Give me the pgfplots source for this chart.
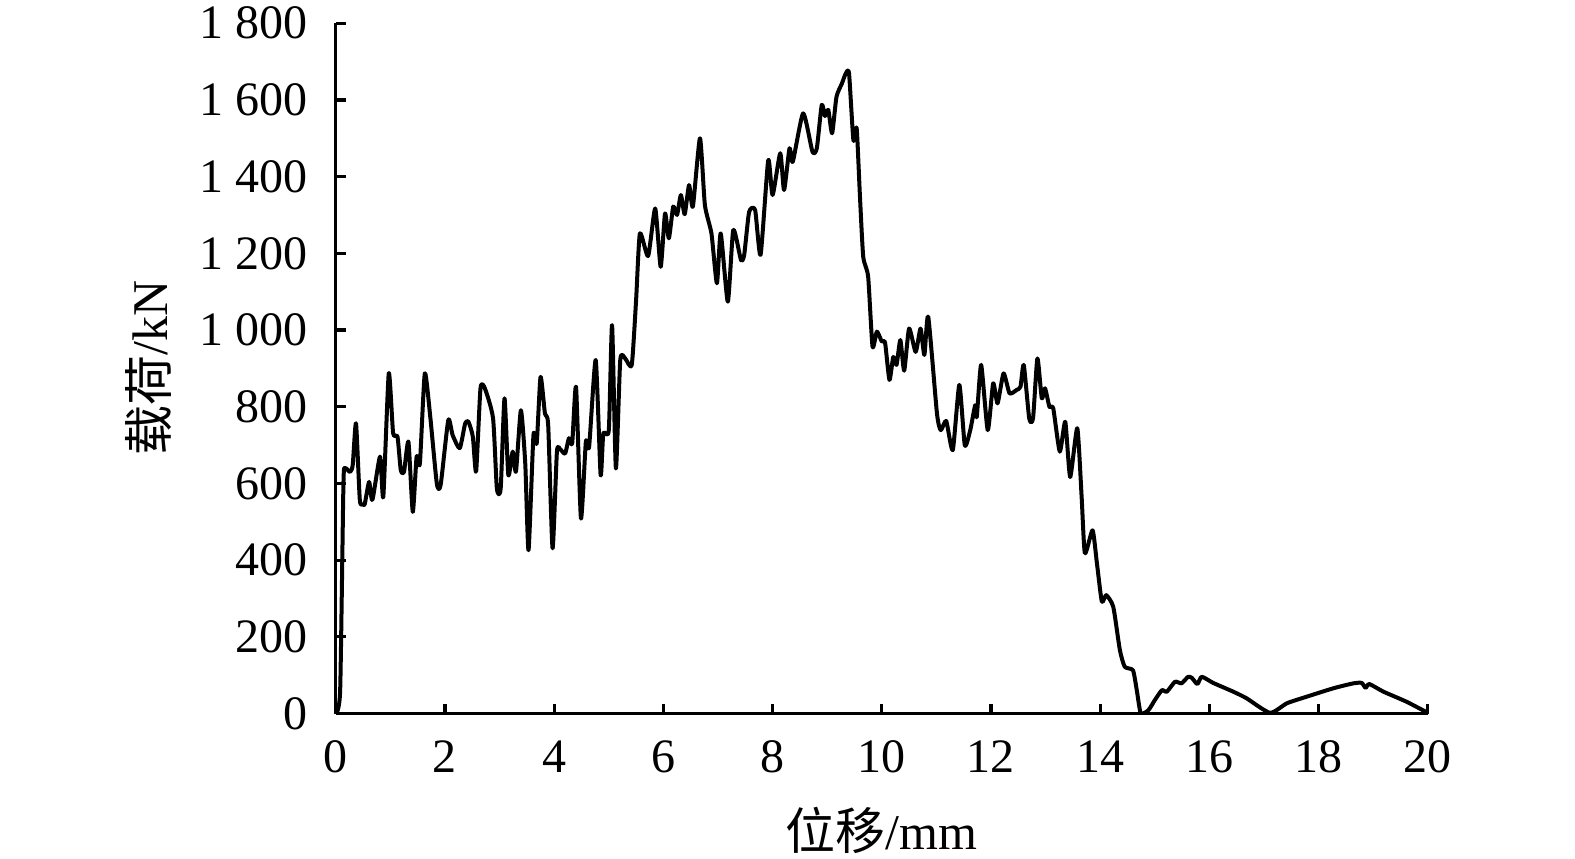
\documentclass[border=0pt]{standalone}
\usepackage{fontspec}
\setmainfont{Liberation Serif}
\newfontfamily\cjk{Noto Sans CJK SC}
\usepackage{pgfplots}
\pgfplotsset{compat=1.18}

\begin{document}
\begin{tikzpicture}
\path[use as bounding box] (-83.95pt,-36.1pt) rectangle (309.8pt,178.4pt);
\begin{axis}[
    at={(0,0)}, anchor=south west,
    scale only axis,
    width=273pt, height=172.6pt,
    xmin=0, xmax=20, ymin=0, ymax=1800,
    axis x line*=bottom, axis y line*=left,
    axis line style={line width=0.8pt, -},
    xtick={0,2,...,20},
    ytick={0,200,...,1800},
    yticklabels={0,200,400,600,800,{1 000},{1 200},{1 400},{1 600},{1 800}},
    major tick length=2.5pt,
    tick align=inside,
    tick style={line width=0.8pt, black},
    /pgf/number format/assume math mode=true,
    tick label style={font=\fontsize{12}{14}\selectfont},
    xticklabel style={anchor=base, yshift=-14.6pt},
    yticklabel style={anchor=east, inner sep=0pt, xshift=-6.9pt},
    xlabel={{\cjk 位移}/mm},
    label style={font=\fontsize{12.5}{15}\selectfont},
    xlabel style={at={(rel axis cs:0.5,0)}, anchor=center, yshift=-29.1pt},
]
\addplot[black, line width=1pt, line join=round, smooth, tension=0.35] coordinates {
(0,0) (0.08,61) (0.14,600) (0.17,640) (0.26,630) (0.31,648) (0.37,757)
(0.44,557) (0.50,546) (0.53,546) (0.61,604) (0.67,557) (0.81,670) (0.87,565)
(0.97,887) (1.05,731) (1.13,722) (1.19,635) (1.25,631) (1.33,709) (1.41,526)
(1.48,670) (1.54,652) (1.63,887) (1.73,774) (1.85,600) (1.92,596) (2.06,765)
(2.14,726) (2.27,692) (2.37,757) (2.43,761) (2.51,722) (2.57,631) (2.65,848)
(2.73,848) (2.88,770) (2.95,587) (3.02,587) (3.09,822) (3.16,622) (3.24,683)
(3.30,631) (3.39,791) (3.47,652) (3.53,426) (3.62,726) (3.68,705) (3.75,878)
(3.83,783) (3.89,752) (3.97,431) (4.05,683) (4.11,689) (4.20,678) (4.27,718)
(4.33,705) (4.40,852) (4.49,509) (4.58,709) (4.64,696) (4.76,922) (4.85,622)
(4.90,731) (5.00,739) (5.06,1013) (5.13,639) (5.21,922) (5.30,926) (5.42,909)
(5.50,1078) (5.57,1252) (5.72,1193) (5.85,1317) (5.95,1165) (6.03,1304)
(6.10,1239) (6.18,1322) (6.25,1300) (6.32,1352) (6.39,1302) (6.47,1378)
(6.54,1322) (6.67,1500) (6.76,1326) (6.88,1252) (6.98,1122) (7.05,1252)
(7.18,1074) (7.28,1261) (7.42,1183) (7.48,1196) (7.57,1308) (7.68,1313)
(7.78,1196) (7.92,1443) (8.00,1352) (8.14,1461) (8.21,1365) (8.31,1474)
(8.37,1439) (8.56,1565) (8.73,1465) (8.81,1474) (8.90,1587) (8.96,1558)
(9.02,1574) (9.09,1513) (9.17,1608) (9.27,1643) (9.34,1669) (9.40,1669)
(9.48,1495) (9.54,1526) (9.60,1348) (9.66,1191) (9.75,1139) (9.83,957)
(9.91,996) (10.00,970) (10.06,967) (10.14,870) (10.21,930) (10.27,909)
(10.34,974) (10.41,894) (10.50,1004) (10.62,943) (10.71,1004) (10.78,935)
(10.85,1035) (11.01,783) (11.08,739) (11.18,763) (11.30,687) (11.42,857)
(11.52,700) (11.62,739) (11.71,804) (11.74,774) (11.82,909) (11.94,739)
(12.04,861) (12.12,809) (12.23,887) (12.34,835) (12.47,844) (12.54,852)
(12.60,909) (12.70,770) (12.77,770) (12.85,926) (12.93,822) (12.99,848)
(13.07,800) (13.14,796) (13.26,683) (13.36,761) (13.45,617) (13.58,744)
(13.66,565) (13.72,418) (13.86,478) (13.94,392) (14.03,292) (14.11,309)
(14.24,278) (14.36,166) (14.45,122) (14.60,113) (14.67,61) (14.74,2)
(14.85,5) (14.91,14) (15.00,35) (15.13,61) (15.22,57) (15.37,83) (15.49,79)
(15.61,96) (15.68,93) (15.78,77) (15.86,96) (16.07,80) (16.44,57) (16.68,40)
(17.11,2) (17.42,27) (17.78,44) (18.27,66) (18.64,79) (18.79,80) (18.86,67)
(18.93,77) (19.19,57) (19.61,31) (20,2)
};
\end{axis}
\node[rotate=90, anchor=center, font=\fontsize{12.5}{15}\selectfont] at (-46.9pt,86.5pt) {{\cjk 载荷}/kN};
\end{tikzpicture}
\end{document}
